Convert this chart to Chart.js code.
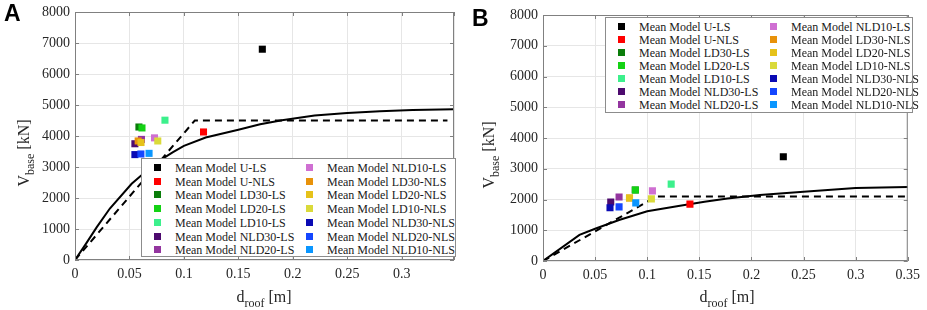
<!DOCTYPE html>
<html>
<head>
<meta charset="utf-8">
<script src="https://cdn.jsdelivr.net/npm/chart.js@4.4.1/dist/chart.umd.min.js"></script>
<style>
  html, body { margin: 0; padding: 0; background: #fff; }
  #wrap { position: relative; width: 927px; height: 310px; overflow: hidden; font-family: "Liberation Serif", "DejaVu Serif", serif; color: #262626; }
  .panel { position: absolute; top: 0; height: 310px; }
  .letter { position: absolute; font: bold 23px "Liberation Sans", Arial, sans-serif; color: #000; }
  .ytitle, .xtitle { position: absolute; font-size: 16px; white-space: nowrap; line-height: 1; }
  .ytitle { transform: translate(-50%, -50%) rotate(-90deg); }
  .xtitle { transform: translate(-50%, 0); }
  sub { font-size: 12px; vertical-align: -5px; line-height: 0; }
  .legend { position: absolute; border: 1px solid #8c8c8c; background: #fff; box-sizing: border-box; font-size: 12px; color: #1a1a1a; }
  .legend .it { position: absolute; white-space: nowrap; line-height: 1; }
  .legend .mk { position: absolute; width: 7px; height: 7px; }
</style>
</head>
<body>
<div id="wrap">
  <div class="panel" style="left:0;width:465px"><canvas id="chA" width="465" height="310"></canvas></div>
  <div class="panel" style="left:465px;width:462px"><canvas id="chB" width="462" height="310"></canvas></div>
  <div class="letter" style="left:4px;top:0px">A</div>
  <div class="letter" style="left:472px;top:5px">B</div>
  <div class="ytitle" style="left:24px;top:153px">V<sub>base</sub> [kN]</div>
  <div class="ytitle" style="left:489px;top:155px">V<sub>base</sub> [kN]</div>
  <div class="xtitle" style="left:264px;top:289px">d<sub>roof</sub> [m]</div>
  <div class="xtitle" style="left:727px;top:289px">d<sub>roof</sub> [m]</div>
  <div class="legend" id="legA" style="left:141px;top:158px;width:315px;height:99px"></div>
  <div class="legend" id="legB" style="left:605px;top:17px;width:308px;height:96px"></div>
</div>
<script>
// Serien (Reihenfolge wie Legende)
var SERIEN = ['Mean Model U-LS', 'Mean Model U-NLS', 'Mean Model LD30-LS', 'Mean Model LD20-LS',
  'Mean Model LD10-LS', 'Mean Model NLD30-LS', 'Mean Model NLD20-LS', 'Mean Model NLD10-LS',
  'Mean Model LD30-NLS', 'Mean Model LD20-NLS', 'Mean Model LD10-NLS', 'Mean Model NLD30-NLS',
  'Mean Model NLD20-NLS', 'Mean Model NLD10-NLS'];
var FARBEN = ['#000000', '#ff0000', '#0a7d0a', '#14d214', '#3cf08c', '#4d0a6e', '#93359f', '#cf6fd2',
  '#e8920a', '#e6c21a', '#dada3a', '#0a0ab4', '#1446ff', '#0a96ff'];

// Panel A
var A_PUSH_D = [0, 0.01, 0.02, 0.032, 0.052, 0.06, 0.075, 0.09, 0.1, 0.12, 0.15, 0.17, 0.19, 0.22, 0.25, 0.28, 0.31, 0.348];
var A_PUSH_V = [0, 520, 1060, 1660, 2460, 2700, 3150, 3480, 3680, 3950, 4200, 4380, 4510, 4660, 4740, 4800, 4840, 4860];
var A_BILIN_D = [0, 0.11, 0.342];
var A_BILIN_V = [0, 4500, 4500];
var A_PT_D = [0.172, 0.118, 0.0587, 0.0615, 0.0826, 0.055, 0.061, 0.073, 0.058, 0.0606, 0.076, 0.055, 0.0605, 0.068];
var A_PT_V = [6800, 4130, 4290, 4260, 4510, 3750, 3890, 3940, 3840, 3790, 3840, 3400, 3420, 3440];
var A_XMAX = 0.348;

// Panel B
var B_PUSH_D = [0, 0.035, 0.05, 0.073, 0.1, 0.13, 0.155, 0.177, 0.208, 0.25, 0.3, 0.35];
var B_PUSH_V = [0, 850, 1050, 1335, 1620, 1790, 1930, 2030, 2150, 2250, 2370, 2410];
var B_BILIN_D = [0, 0.109, 0.35];
var B_BILIN_V = [0, 2100, 2100];
var B_PT_D = [0.2306, 0.141, 0.0885, 0.0887, 0.123, 0.065, 0.073, 0.105, 0.083, 0.083, 0.104, 0.0643, 0.073, 0.089];
var B_PT_V = [3390, 1850, 2310, 2310, 2500, 1920, 2080, 2280, 2050, 2050, 2020, 1730, 1760, 1890];
var B_XMAX = 0.35;

var Y_MAX = 8000;
Chart.defaults.font.family = 'Liberation Serif, serif';
var TICK_FONT = { family: 'Liberation Serif, serif', size: 14, lineHeight: 1 };

function xy(ds, vs) { return ds.map(function (d, i) { return { x: d, y: vs[i] }; }); }

// Rahmen + nach innen zeigende Ticks (MATLAB-Stil)
var rahmen = {
  id: 'rahmen',
  afterDraw: function (chart) {
    var c = chart.ctx, a = chart.chartArea, sx = chart.scales.x, sy = chart.scales.y, L = 4;
    c.save();
    c.strokeStyle = '#808080'; c.lineWidth = 1;
    c.strokeRect(a.left + 0.5, a.top + 0.5, a.right - a.left - 1, a.bottom - a.top - 1);
    c.beginPath();
    sx.ticks.forEach(function (t) {
      var px = Math.round(sx.getPixelForValue(t.value)) + 0.5;
      c.moveTo(px, a.bottom); c.lineTo(px, a.bottom - L);
      c.moveTo(px, a.top); c.lineTo(px, a.top + L);
    });
    sy.ticks.forEach(function (t) {
      var py = Math.round(sy.getPixelForValue(t.value)) + 0.5;
      c.moveTo(a.left, py); c.lineTo(a.left + L, py);
      c.moveTo(a.right, py); c.lineTo(a.right - L, py);
    });
    c.stroke();
    c.restore();
  }
};

function makeChart(id, o) {
  var datasets = [
    { data: xy(o.pushD, o.pushV), showLine: true, borderColor: '#000', borderWidth: 2, pointRadius: 0, order: 100 },
    { data: xy(o.bilD, o.bilV), showLine: true, borderColor: '#000', borderWidth: 2, borderDash: [7, 5], pointRadius: 0, order: 99 }
  ];
  SERIEN.forEach(function (s, i) {
    datasets.push({
      label: s, data: [{ x: o.ptD[i], y: o.ptV[i] }],
      pointStyle: 'rect', pointRadius: 5, pointHoverRadius: 5, borderWidth: 0,
      backgroundColor: FARBEN[i], borderColor: FARBEN[i], order: 50 - i
    });
  });
  return new Chart(document.getElementById(id).getContext('2d'), {
    type: 'scatter',
    data: { datasets: datasets },
    plugins: [rahmen],
    options: {
      responsive: false, animation: false,
      layout: { padding: o.pad },
      plugins: { legend: { display: false }, tooltip: { enabled: false } },
      scales: {
        x: {
          type: 'linear', min: 0, max: o.xmax,
          grid: { color: '#e6e6e6', drawTicks: false },
          border: { display: false },
          ticks: {
            stepSize: 0.05, padding: 7, color: '#262626', font: TICK_FONT, maxRotation: 0,
            callback: function (v) {
              var k = v * 20;
              return Math.abs(k - Math.round(k)) < 1e-6 ? String(Math.round(k) * 5 / 100) : '';
            }
          },
          afterFit: function (s) { s.height = o.xh; }
        },
        y: {
          min: 0, max: Y_MAX,
          grid: { color: '#e6e6e6', drawTicks: false },
          border: { display: false },
          ticks: { stepSize: 1000, padding: 5, color: '#262626', font: TICK_FONT,
            callback: function (v) { return String(v); } },
          afterFit: function (s) { s.width = o.yw; }
        }
      }
    }
  });
}

makeChart('chA', { pushD: A_PUSH_D, pushV: A_PUSH_V, bilD: A_BILIN_D, bilV: A_BILIN_V,
  ptD: A_PT_D, ptV: A_PT_V, xmax: A_XMAX, pad: { top: 6, right: 11, left: 0, bottom: 0 }, xh: 50, yw: 75 });
makeChart('chB', { pushD: B_PUSH_D, pushV: B_PUSH_V, bilD: B_BILIN_D, bilV: B_BILIN_V,
  ptD: B_PT_D, ptV: B_PT_V, xmax: B_XMAX, pad: { top: 15, right: 14, left: 0, bottom: 0 }, xh: 49, yw: 78 });

// Legende: zwei Spalten zu je 7 Einträgen
function legende(id, rowH, y0) {
  var box = document.getElementById(id), html = '';
  SERIEN.forEach(function (s, i) {
    var col = i < 7 ? 0 : 1, row = i % 7;
    var x = col ? 168 : 16, y = y0 + row * rowH;
    html += '<div class="mk" style="left:' + (x - 4) + 'px;top:' + (y - 4) + 'px;background:' + FARBEN[i] + '"></div>' +
      '<div class="it" style="left:' + (x + 17) + 'px;top:' + (y - 6) + 'px">' + s + '</div>';
  });
  box.innerHTML = html;
}
legende('legA', 13.7, 9);
legende('legB', 13.1, 8.5);
</script>
</body>
</html>
